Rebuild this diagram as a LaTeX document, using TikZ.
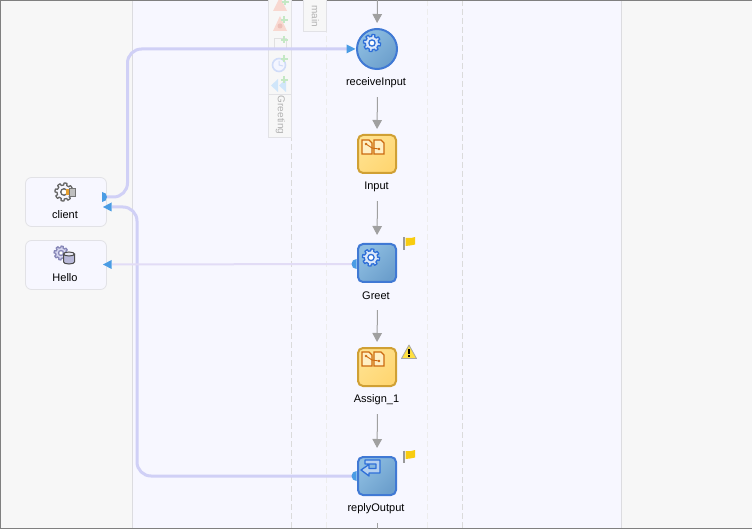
\documentclass[tikz,border=0pt]{standalone}
\usepackage{fontspec}
\setmainfont{Liberation Sans}
\usetikzlibrary{arrows.meta,shapes.geometric,calc}
\definecolor{bgside}{HTML}{F7F7F7}
\definecolor{bgmid}{HTML}{F7F7FF}
\definecolor{bandline}{HTML}{DCDCE0}
\definecolor{wire}{HTML}{D0D0F6}
\definecolor{wirelite}{HTML}{E2DCF6}
\definecolor{port}{HTML}{4A9CE4}
\definecolor{flowc}{HTML}{A0A0A0}
\definecolor{bluedge}{HTML}{4079D4}
\definecolor{golden}{HTML}{D0A034}
\definecolor{orangeic}{HTML}{CC6A10}
\definecolor{gearb}{HTML}{2E6FD8}
\definecolor{tbedge}{HTML}{E2E2E6}
\definecolor{blueA}{HTML}{8EBEE2}
\definecolor{blueB}{HTML}{6C9FCC}
\definecolor{goldA}{HTML}{FFE290}
\definecolor{goldB}{HTML}{FFD672}
\definecolor{pagefill}{HTML}{FFEFC4}
\definecolor{plusgreen}{HTML}{C4E8C4}
\definecolor{flagy}{HTML}{F8CC10}
\definecolor{warny}{HTML}{FFE040}
\definecolor{pinkA}{HTML}{F8D8D0}
\definecolor{pinkB}{HTML}{ECC0B8}
\definecolor{cylE}{HTML}{E0E0E0}
\definecolor{clockE}{HTML}{D0DCF8}
\definecolor{clockF}{HTML}{F4F6FF}
\definecolor{rewindc}{HTML}{D0E6FA}
\definecolor{gearfill}{HTML}{DCE8FA}
\definecolor{replyfill}{HTML}{B4D0F0}
\definecolor{clientor}{HTML}{E8A030}
\definecolor{helloE}{HTML}{8888B8}
\definecolor{helloF}{HTML}{D8D8F0}
\definecolor{dbA}{HTML}{B8B8D8}
\definecolor{dbB}{HTML}{E8E8F4}
\tikzset{
  lbl/.style={font=\fontsize{11}{12}\selectfont,text=black,inner sep=0pt,minimum height=12pt,anchor=center},
  partner/.style={draw=tbedge,fill=bgmid,rounded corners=6pt,minimum width=81pt,minimum height=49pt,inner sep=0pt,line width=.8pt},
  actblue/.style={draw=bluedge,line width=2pt,rounded corners=5pt,minimum size=38pt,inner sep=0pt,shade,top color=blueA,bottom color=blueB,shading angle=45},
  actgold/.style={draw=golden,line width=2pt,rounded corners=5pt,minimum size=38pt,inner sep=0pt,shade,top color=goldA,bottom color=goldB,shading angle=45},
  flow/.style={draw=flowc,line width=1pt,-{Triangle[length=9pt,width=9.5pt,fill=flowc]}},
  wireline/.style={draw=wire,line width=3pt,rounded corners=14pt},
  tip/.style={fill=port,draw=none},
  tbbox/.style={draw=tbedge,fill=bgside,line width=.8pt},
  tbtext/.style={font=\fontsize{10}{11}\selectfont,text=black!30,rotate=-90,inner sep=0pt},
  page/.style={draw=orangeic,fill=pagefill,line width=1.1pt},
  plusg/.style={draw=plusgreen,line width=2pt}
}
\newcommand{\mygear}[5]{% x,y,scale,edge,fill
  \filldraw[draw=#4,fill=#5,line width=1.3pt,line join=round,shift={(#1,#2)},scale=#3]
    plot[samples=145,domain=0:360] (\x:{(sin(8*\x+11)>0?8.6:6.6)}) -- cycle;
  \draw[draw=#4,fill=white,line width=1.3pt] (#1,#2) circle (3.1*#3);
}
\newcommand{\myflag}[2]{% x,y
  \draw[draw=black!40,line width=2pt] (#1+1.2,#2+.5) -- (#1+1.2,#2+13);
  \fill[fill=flagy] (#1+2.5,#2+1) -- (#1+8,#2+1) -- (#1+12,#2) -- (#1+12,#2+7.5) -- (#1+7,#2+8.5) -- (#1+2.5,#2+9) -- cycle;
}
\newcommand{\mydocs}[2]{% x,y
  \draw[page] (#1,#2) -- (#1+7,#2) -- (#1+10,#2+3) -- (#1+10,#2+14) -- (#1,#2+14) -- cycle;
  \draw[page] (#1+12,#2) -- (#1+19,#2) -- (#1+22,#2+3) -- (#1+22,#2+14) -- (#1+12,#2+14) -- cycle;
  \draw[draw=orangeic,line width=.9pt] (#1+4,#2+4) -- (#1+10,#2+8) -- (#1+17,#2+9);
  \fill[orangeic] (#1+4,#2+4) circle (1.4) (#1+17,#2+9) circle (1.4);
}
\begin{document}
\begin{tikzpicture}[x=1pt,y=-1pt]
\useasboundingbox (0,0) rectangle (752,529);
% backgrounds
\fill[bgside] (0,0) rectangle (752,529);
\fill[bgmid] (132,0) rectangle (621,529);
\draw[bandline,line width=1pt] (132.5,0) -- (132.5,529) (621.5,0) -- (621.5,529);
\draw[black!14,dash pattern=on 6pt off 3pt,line width=.8pt] (291.5,0) -- (291.5,529) (462.5,0) -- (462.5,529);
\draw[black!7,dash pattern=on 6pt off 3pt,line width=.8pt] (326.5,0) -- (326.5,529) (427.5,0) -- (427.5,529);
\fill[black!50] (0,0) rectangle (752,.8);
\fill[black!50] (0,0) rectangle (.8,529);
\fill[black!50] (0,527.5) rectangle (752,529);
% toolbar strip
\draw[tbbox] (268.5,-2) rectangle (291.5,137);
\draw[tbbox] (268.5,94.5) rectangle (291.5,137);
\node[tbtext] (tGreeting) at (280.5,115) {Greeting};
\draw[tbbox] (303.5,-2) rectangle (326.5,31.5);
\node[tbtext] (tMain) at (315.5,16) {main};
% faded toolbar icons
\fill[pinkA] (280,-3) -- (273,11) -- (287,11) -- cycle;
\fill[pinkA] (280,16) -- (273,31) -- (287,31) -- cycle;
\fill[pinkB] (280,26) circle (2.5);
\draw[draw=cylE,fill=bgside,line width=1pt] (274,39) rectangle (286,49);
\draw[draw=clockE,fill=clockF,line width=1.6pt] (279,65) circle (6.5);
\draw[draw=clockE,line width=1pt] (279,61) -- (279,65) -- (283,66);
\fill[rewindc] (286,79) -- (286,92) -- (279,85.5) -- cycle;
\fill[rewindc] (278,79) -- (278,92) -- (271,85.5) -- cycle;
\foreach \px/\py in {285/2,284/20,284/40,284/59,284/80}{
  \draw[plusg] (\px-3.5,\py) -- (\px+3.5,\py) (\px,\py-3.5) -- (\px,\py+3.5);
}
% partner nodes
\node[partner] (client) at (66,202) {};
\node[lbl] (lblClient) at (65,215) {client};
\node[partner] (hello) at (66,265) {};
\node[lbl] (lblHello) at (65,278) {Hello};
% activities
\node[circle,draw=bluedge,line width=2pt,minimum size=40pt,inner sep=0pt,shade,top color=blueA,bottom color=blueB,shading angle=45] (receive) at (377,49) {};
\node[lbl] (lblReceive) at (376,83) {receiveInput};
\node[actgold] (input) at (377,154) {};
\node[lbl] (lblInput) at (376.5,187) {Input};
\node[actblue] (greet) at (377,263) {};
\node[lbl] (lblGreet) at (376,296) {Greet};
\node[actgold] (assign) at (377,367) {};
\node[lbl] (lblAssign) at (376.5,400) {Assign\_1};
\node[actblue] (reply) at (377,476) {};
\node[lbl] (lblReply) at (376,509) {replyOutput};
% ports
\coordinate (topEnd) at (377.5,0);
\coordinate (botEnd) at (377.5,529);
\coordinate (pClientOut) at (103,197);
\coordinate (pClientIn) at (112,207);
\coordinate (pHelloIn) at (112,264.5);
\coordinate (pRecv) at (347,49);
\coordinate (pGreet) at (356,264);
\coordinate (pReply) at (356,476);
% flow arrows
\draw[flow,shorten >=5pt] (topEnd) -- (receive.north);
\draw[flow,shorten <=8pt,shorten >=5pt] (lblReceive.south) ++(1.5,0) -- (input.north);
\draw[flow,shorten <=8pt,shorten >=8pt] (lblInput.south) ++(1,0) -- (greet.north);
\draw[flow,shorten <=8pt,shorten >=5pt] (lblGreet.south) ++(1.5,0) -- (assign.north);
\draw[flow,shorten <=8pt,shorten >=8pt] (lblAssign.south) ++(1,0) -- (reply.north);
\draw[draw=flowc,line width=1pt,shorten <=8pt] (lblReply.south) ++(1.5,0) -- (botEnd);
% partner links
\draw[wireline] (pClientOut) -- ++(24.5,0) |- (pRecv);
\draw[wireline] (pReply) -| (137,207) -- (pClientIn);
\draw[draw=wirelite,line width=2pt] (pGreet) -- (pHelloIn);
% tips
\fill[tip] (355.5,49) -- (346.5,44.5) -- (346.5,53.5) -- cycle;
\fill[tip] (103,207) -- (111.5,202.5) -- (111.5,211.5) -- cycle;
\fill[tip] (103,264.5) -- (111.5,260) -- (111.5,269) -- cycle;
\fill[tip] (102,202) arc (90:-90:5) -- cycle;
\fill[tip] (356.5,269) arc (90:270:5) -- cycle;
\fill[tip] (356.5,481) arc (90:270:5) -- cycle;
% icons
\mygear{372}{43}{1}{gearb}{gearfill}
\mygear{371}{257.5}{1}{gearb}{gearfill}
\mydocs{362}{140}
\mydocs{362}{352}
% reply icon
\draw[draw=gearb,fill=replyfill,line width=1.3pt,line join=round] (365,460) -- (380,460) -- (380,473) -- (369,473) -- (369,476) -- (361,470) -- (369,464.5) -- (369,468.5) -- (376,468.5) -- (376,464) -- (365,464) -- cycle;
% flags and warning
\myflag{403}{237}
\myflag{403}{450}
\draw[draw=black!35,fill=warny,line width=.8pt,line join=round] (409,345) -- (416.5,358.5) -- (401.5,358.5) -- cycle;
\fill[black] (408.2,349) rectangle (409.8,354);
\fill[black] (408.2,355) rectangle (409.8,357);
% client icon
\mygear{64}{192}{1.05}{black!60}{bgmid}
\fill[clientor] (65.5,189) rectangle (69.5,195.5);
\fill[black!25] (69.5,188) rectangle (75,196.5);
\draw[black!55,line width=.6pt] (69.5,188) rectangle (75,196.5);
% hello icon
\mygear{61}{253}{.8}{helloE}{helloF}
\draw[draw=black!70,fill=dbA,line width=1pt] (63.5,254) -- (63.5,262) arc (180:0:5.5 and 2) -- (74.5,254);
\draw[draw=black!70,fill=dbB,line width=1pt] (69,254) ellipse (5.5 and 2);
\end{tikzpicture}
\end{document}
